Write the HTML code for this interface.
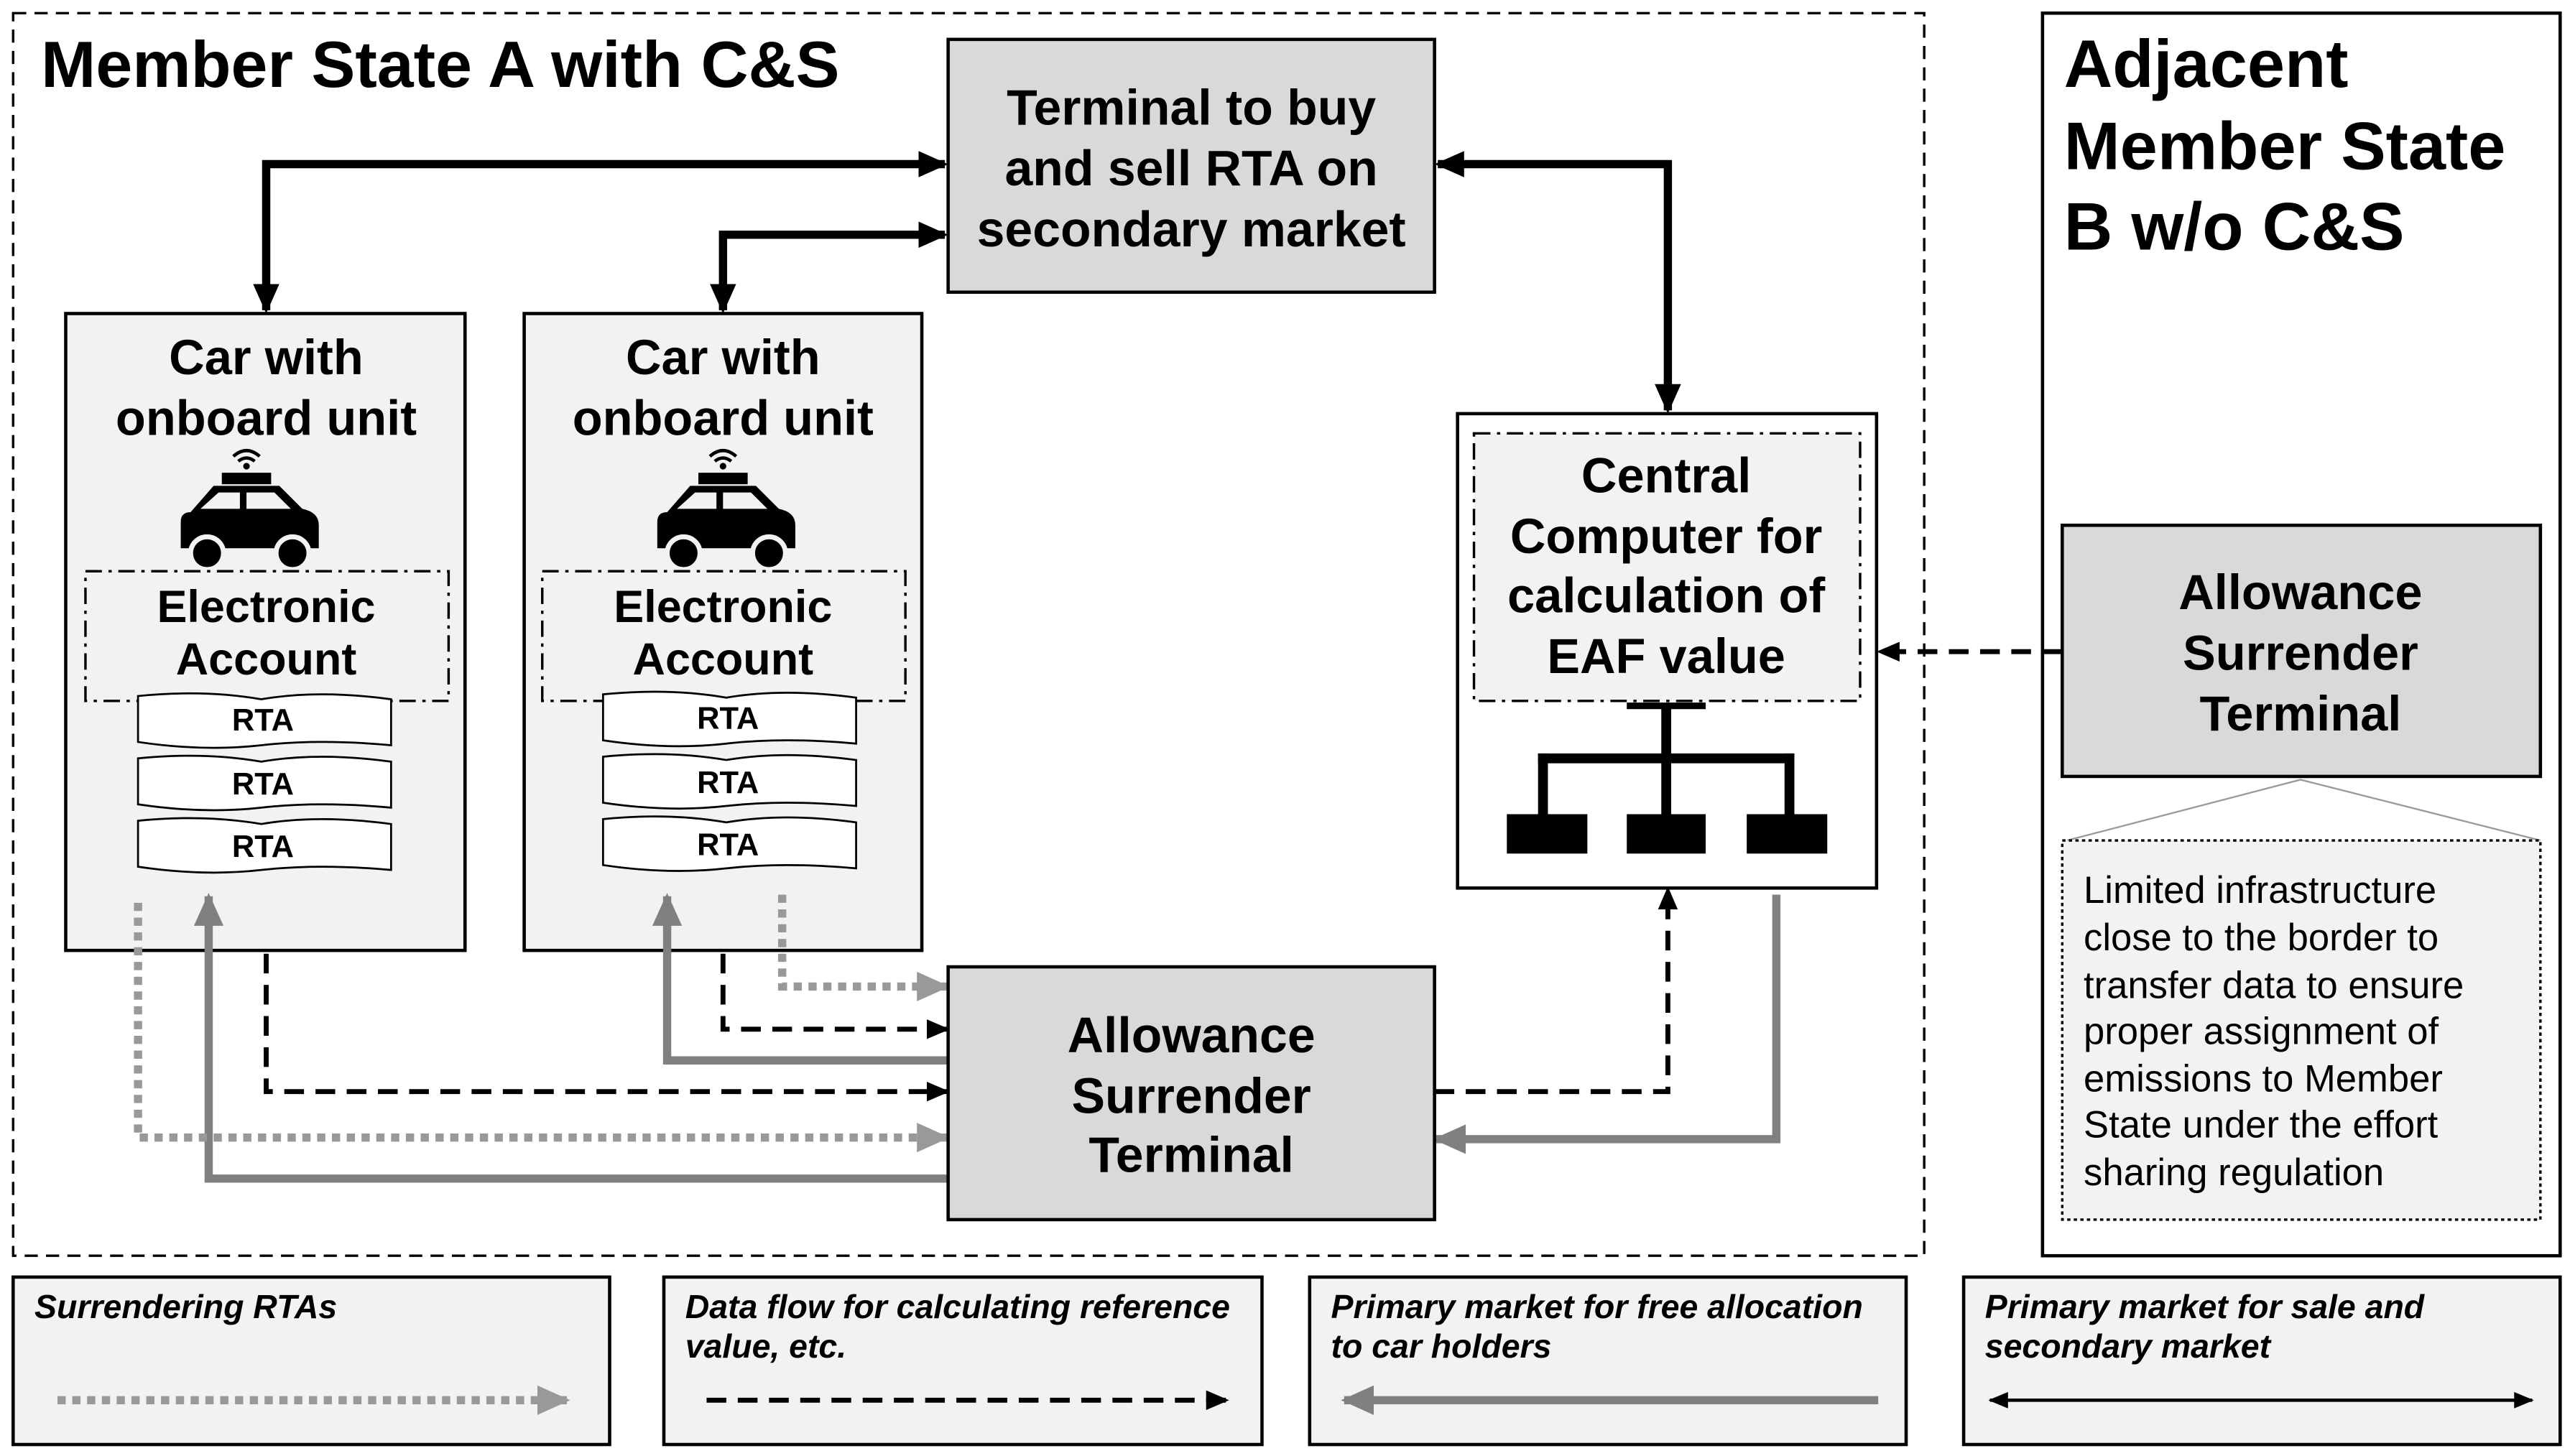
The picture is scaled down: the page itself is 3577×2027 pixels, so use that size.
<!DOCTYPE html>
<html><head><meta charset="utf-8"><style>html,body{margin:0;padding:0;background:#fff}svg{display:block}</style></head>
<body>
<svg width="3577" height="2027" viewBox="0 0 1564 887" preserveAspectRatio="none" xmlns="http://www.w3.org/2000/svg" font-family="Liberation Sans, sans-serif">
<defs>
<marker id="ab" markerWidth="18" markerHeight="16" refX="16" refY="8" orient="auto-start-reverse" markerUnits="userSpaceOnUse"><path d="M0,0 L18,8 L0,16 z" fill="#000"/></marker>
<marker id="abd" markerWidth="14" markerHeight="12" refX="12" refY="6" orient="auto-start-reverse" markerUnits="userSpaceOnUse"><path d="M0,0 L14,6 L0,12 z" fill="#000"/></marker>
<marker id="abs" markerWidth="12" markerHeight="10" refX="11" refY="5" orient="auto-start-reverse" markerUnits="userSpaceOnUse"><path d="M0,0 L12,5 L0,10 z" fill="#000"/></marker>
<marker id="ag" markerWidth="20" markerHeight="18" refX="18" refY="9" orient="auto" markerUnits="userSpaceOnUse"><path d="M0,0 L20,9 L0,18 z" fill="#808080"/></marker>
<marker id="agd" markerWidth="20" markerHeight="18" refX="18" refY="9" orient="auto" markerUnits="userSpaceOnUse"><path d="M0,0 L20,9 L0,18 z" fill="#999"/></marker>
<g id="car">
<path d="M-40,30 L-40,14 Q-40,8 -34,8 L-20,-8 L20,-8 L34,6 Q44,8 44,16 L44,30 Z" fill="#000"/>
<path d="M-28,6 L-17,-4 L-4,-4 L-4,6 Z M0,-4 L17,-4 L27,6 L0,6 Z" fill="#f2f2f2"/>
<circle cx="-24" cy="33" r="10" fill="#000" stroke="#f2f2f2" stroke-width="3"/>
<circle cx="28" cy="33" r="10" fill="#000" stroke="#f2f2f2" stroke-width="3"/>
<rect x="-15" y="-16" width="30" height="7" fill="#000"/>
<path d="M-8,-26 Q0,-33 8,-26 M-5,-23 Q0,-27 5,-23" stroke="#000" stroke-width="2" fill="none"/>
<circle cx="0" cy="-20" r="2" fill="#000"/>
</g>
<g id="rta">
<path d="M0,0 Q40,-4 75,2 Q110,-4 154,2 L154,30 Q110,26 75,30 Q40,34 0,28 Z" fill="#fff" stroke="#000" stroke-width="1.2"/>
</g>
</defs>
<rect x="0" y="0" width="1564" height="887" fill="#fff"/>
<rect x="8" y="8" width="1163" height="757" fill="#fff" stroke="#000" stroke-width="1.5" stroke-dasharray="8,5"/>
<text x="25" y="53" font-size="40" font-weight="bold">Member State A with C&amp;S</text>

<rect x="1243" y="8" width="315" height="757" fill="#fff" stroke="#000" stroke-width="2"/>
<g font-size="41" font-weight="bold"><text x="1256" y="53">Adjacent</text><text x="1256" y="103">Member State</text><text x="1256" y="152">B w/o C&amp;S</text></g>

<g stroke="#000" stroke-width="5" fill="none">
<path d="M162,189 L162,100 L575,100" marker-end="url(#ab)" marker-start="url(#ab)"/>
<path d="M440,189 L440,143 L575,143" marker-end="url(#ab)" marker-start="url(#ab)"/>
<path d="M875,100 L1015,100 L1015,250" marker-end="url(#ab)" marker-start="url(#ab)"/>
</g>

<rect x="577" y="24" width="296" height="154" fill="#d9d9d9" stroke="#000" stroke-width="2"/>
<g font-size="30.5" font-weight="bold" text-anchor="middle"><text x="725" y="76">Terminal to buy</text><text x="725" y="113">and sell RTA on</text><text x="725" y="150">secondary market</text></g>

<g>
<rect x="40" y="191" width="243" height="388" fill="#f2f2f2" stroke="#000" stroke-width="2"/>
<rect x="319" y="191" width="242" height="388" fill="#f2f2f2" stroke="#000" stroke-width="2"/>
<g font-size="30" font-weight="bold" text-anchor="middle">
<text x="162" y="228">Car with</text><text x="162" y="265">onboard unit</text>
<text x="440" y="228">Car with</text><text x="440" y="265">onboard unit</text></g>
<use href="#car" x="150" y="304"/>
<use href="#car" x="440" y="304"/>
<rect x="52" y="348" width="221" height="79" fill="none" stroke="#000" stroke-width="1.5" stroke-dasharray="10,4,2,4"/>
<rect x="330" y="348" width="221" height="79" fill="none" stroke="#000" stroke-width="1.5" stroke-dasharray="10,4,2,4"/>
<g font-size="27.5" font-weight="bold" text-anchor="middle">
<text x="162" y="379">Electronic</text><text x="162" y="411">Account</text>
<text x="440" y="379">Electronic</text><text x="440" y="411">Account</text></g>
<use href="#rta" x="84" y="424"/><use href="#rta" x="84" y="462"/><use href="#rta" x="84" y="500"/>
<use href="#rta" x="367" y="423"/><use href="#rta" x="367" y="461"/><use href="#rta" x="367" y="499"/>
<g font-size="19" font-weight="bold" text-anchor="middle">
<text x="160" y="445">RTA</text><text x="160" y="484">RTA</text><text x="160" y="522">RTA</text>
<text x="443" y="444">RTA</text><text x="443" y="483">RTA</text><text x="443" y="521">RTA</text></g>
</g>

<rect x="887" y="252" width="255" height="289" fill="#fff" stroke="#000" stroke-width="2"/>
<rect x="897" y="264" width="235" height="163" fill="#f2f2f2" stroke="#000" stroke-width="1.5" stroke-dasharray="10,4,2,4"/>
<g font-size="30" font-weight="bold" text-anchor="middle"><text x="1014" y="300">Central</text><text x="1014" y="337">Computer for</text><text x="1014" y="373">calculation of</text><text x="1014" y="410">EAF value</text></g>
<g fill="#000"><rect x="990" y="428" width="48" height="4"/><rect x="1011" y="430" width="6" height="34"/><rect x="936" y="459" width="156" height="6"/><rect x="936" y="459" width="6" height="38"/><rect x="1011" y="459" width="6" height="38"/><rect x="1086" y="459" width="6" height="38"/>
<rect x="917" y="496" width="49" height="24"/><rect x="990" y="496" width="48" height="24"/><rect x="1063" y="496" width="49" height="24"/></g>

<path d="M1258,512 L1400,475 L1546,512" fill="none" stroke="#999" stroke-width="1"/>
<rect x="1255" y="512" width="291" height="231" fill="#f2f2f2" stroke="#000" stroke-width="1.5" stroke-dasharray="2,2"/>
<g font-size="23"><text x="1268" y="550">Limited infrastructure</text><text x="1268" y="579">close to the border to</text><text x="1268" y="608">transfer data to ensure</text><text x="1268" y="636">proper assignment of</text><text x="1268" y="665">emissions to Member</text><text x="1268" y="693">State under the effort</text><text x="1268" y="722">sharing regulation</text></g>
<rect x="1255" y="320" width="291" height="153" fill="#d9d9d9" stroke="#000" stroke-width="2"/>
<g font-size="30" font-weight="bold" text-anchor="middle"><text x="1400" y="371">Allowance</text><text x="1400" y="408">Surrender</text><text x="1400" y="445">Terminal</text></g>
<path d="M1255,397 L1144,397" stroke="#000" stroke-width="3" stroke-dasharray="12,7" fill="none" marker-end="url(#abd)"/>

<g fill="none">
<path d="M577,718 L127,718 L127,546" stroke="#808080" stroke-width="5" marker-end="url(#ag)"/>
<path d="M577,646 L406,646 L406,546" stroke="#808080" stroke-width="5" marker-end="url(#ag)"/>
<path d="M1081,545 L1081,694 L874,694" stroke="#808080" stroke-width="5" marker-end="url(#ag)"/>
<path d="M162,581 L162,665 L576,665" stroke="#000" stroke-width="3" stroke-dasharray="12,7" marker-end="url(#abd)"/>
<path d="M440,581 L440,627 L576,627" stroke="#000" stroke-width="3" stroke-dasharray="12,7" marker-end="url(#abd)"/>
<path d="M873,665 L1015,665 L1015,542" stroke="#000" stroke-width="3" stroke-dasharray="12,7" marker-end="url(#abd)"/>
<path d="M84,550 L84,693 L576,693" stroke="#999" stroke-width="5" stroke-dasharray="5,4" marker-end="url(#agd)"/>
<path d="M476,545 L476,601 L576,601" stroke="#999" stroke-width="5" stroke-dasharray="5,4" marker-end="url(#agd)"/>
</g>
<rect x="577" y="589" width="296" height="154" fill="#d9d9d9" stroke="#000" stroke-width="2"/>
<g font-size="30.5" font-weight="bold" text-anchor="middle"><text x="725" y="641">Allowance</text><text x="725" y="678">Surrender</text><text x="725" y="714">Terminal</text></g>

<g fill="#f2f2f2" stroke="#000" stroke-width="2">
<rect x="8" y="778" width="363" height="102"/><rect x="404" y="778" width="364" height="102"/><rect x="797" y="778" width="363" height="102"/><rect x="1195" y="778" width="363" height="102"/></g>
<g font-size="20.3" font-weight="bold" font-style="italic">
<text x="21" y="803">Surrendering RTAs</text>
<text x="417" y="803">Data flow for calculating reference</text><text x="417" y="827">value, etc.</text>
<text x="810" y="803">Primary market for free allocation</text><text x="810" y="827">to car holders</text>
<text x="1208" y="803">Primary market for sale and</text><text x="1208" y="827">secondary market</text></g>
<g fill="none">
<path d="M35,853 L345,853" stroke="#999" stroke-width="5" stroke-dasharray="5,4" marker-end="url(#agd)"/>
<path d="M430,853 L746,853" stroke="#000" stroke-width="3" stroke-dasharray="12,7" marker-end="url(#abd)"/>
<path d="M1143,853 L818,853" stroke="#808080" stroke-width="5" marker-end="url(#ag)"/>
<path d="M1211,853 L1541,853" stroke="#000" stroke-width="2" marker-end="url(#abs)" marker-start="url(#abs)"/>
</g>
</svg>
</body></html>
